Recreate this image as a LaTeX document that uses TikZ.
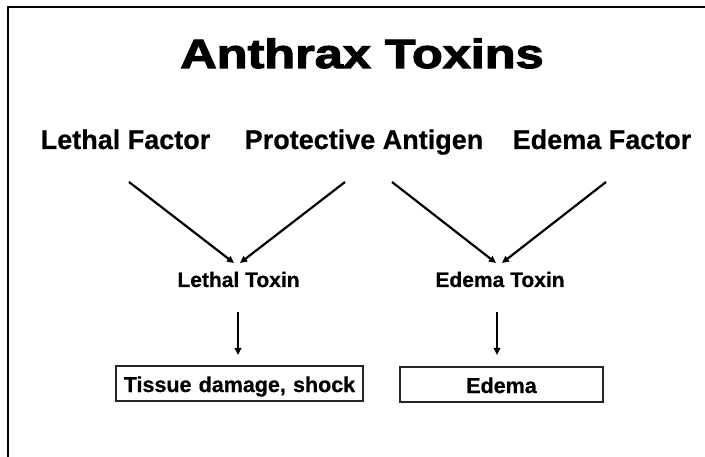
\documentclass[tikz,border=0pt]{standalone}
\usepackage{fontspec}
\setmainfont{Liberation Sans}[BoldFeatures={FakeBold=0.6}]
\newfontfamily\heavyfont{Liberation Sans Bold}[FakeBold=2.5]
\usetikzlibrary{arrows.meta}
\begin{document}
\begin{tikzpicture}[x=1pt,y=-1pt,
  title/.style={inner sep=0pt,anchor=base,font=\fontsize{41}{41}\selectfont\heavyfont},
  factor/.style={inner sep=0pt,anchor=base,font=\fontsize{27}{27}\selectfont\bfseries},
  toxin/.style={inner sep=0pt,anchor=base,font=\fontsize{21}{21}\selectfont\bfseries},
  effect/.style={draw=black!85,line width=1.4pt,inner sep=0pt,anchor=base,text height=26pt,text depth=9pt,align=center,font=\fontsize{21.5}{21.5}\selectfont\bfseries},
  link/.style={line width=2.2pt,-{Triangle[length=7pt,width=6.5pt]}},
  frame/.style={line width=2.6pt}]
\useasboundingbox (0,0) rectangle (705,457);
\fill[white] (0,0) rectangle (705,457);
\draw[frame] (705,7) -- (8,7) -- (8,457);
\node[title] (title) at (362,68) {\scalebox{1.23}[1]{Anthrax Toxins}};
\node[factor] (lf) at (125.5,149) {Lethal Factor};
\node[factor] (pa) at (364,149) {Protective Antigen};
\node[factor] (ef) at (602,149) {Edema Factor};
\node[toxin] (lt) at (238.5,287) {Lethal Toxin};
\node[toxin] (et) at (500,287) {Edema Toxin};
\node[effect,text width=247pt] (td) at (239.5,392) {Tissue damage, shock};
\node[effect,text width=203pt] (ed) at (501.5,393) {Edema};
\coordinate (lf1) at (129,182);
\coordinate (pa1) at (345,182);
\coordinate (pa2) at (392,182);
\coordinate (ef1) at (606,182);
\coordinate (lt1) at (234,263);
\coordinate (lt2) at (240,263);
\coordinate (et1) at (496,263);
\coordinate (et2) at (502,263);
\coordinate (lt3) at (238,312);
\coordinate (et3) at (497,312);
\coordinate (td1) at (238,355);
\coordinate (ed1) at (497,355);
\draw[link] (lf1) -- (lt1);
\draw[link] (pa1) -- (lt2);
\draw[link] (pa2) -- (et1);
\draw[link] (ef1) -- (et2);
\draw[link] (lt3) -- (td1);
\draw[link] (et3) -- (ed1);
\end{tikzpicture}
\end{document}
